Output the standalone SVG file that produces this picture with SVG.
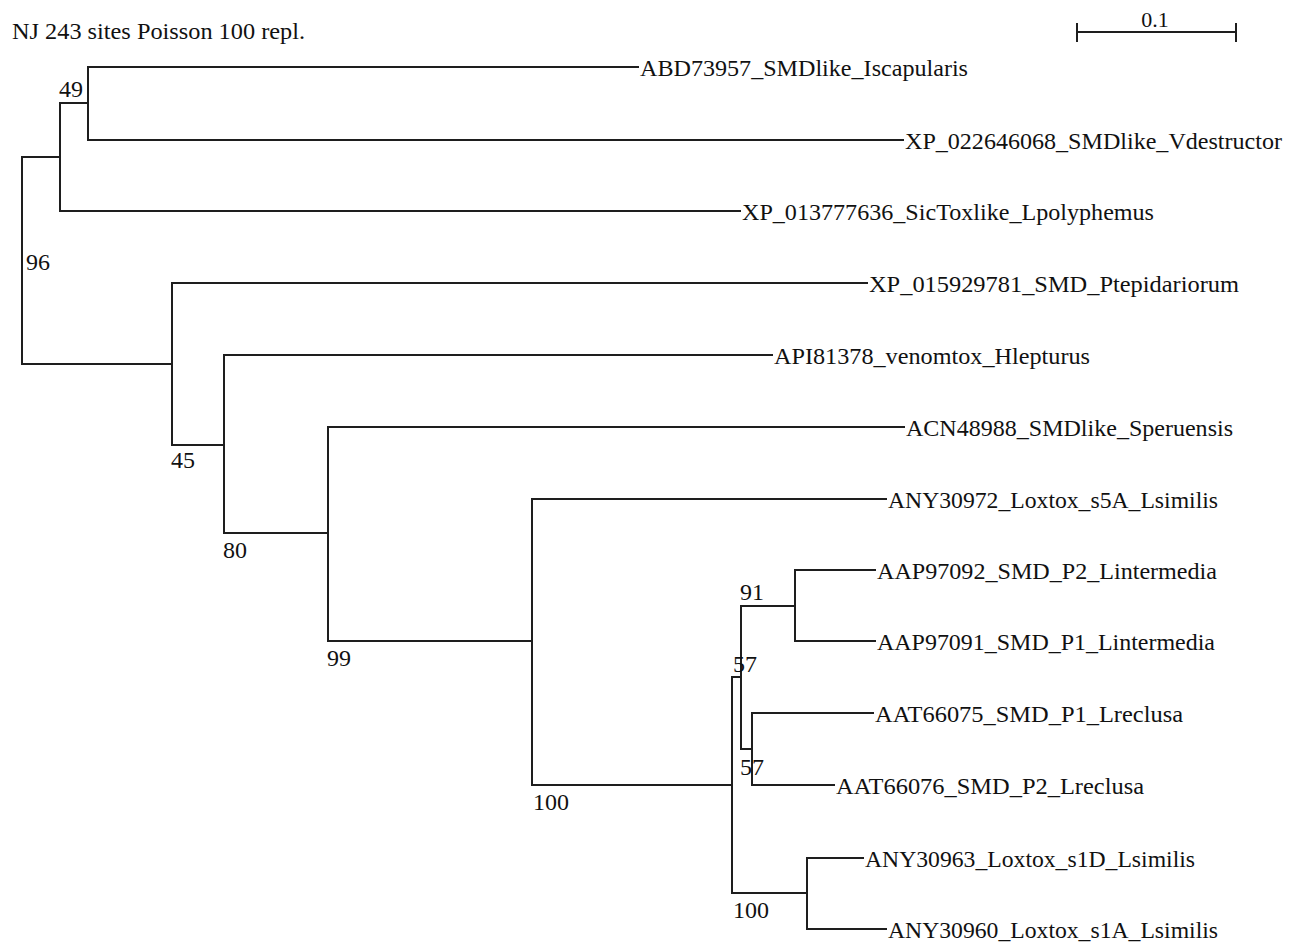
<svg xmlns="http://www.w3.org/2000/svg" width="1297" height="946" viewBox="0 0 1297 946">
<style>
.br{fill:none;stroke:#1e1e1e;stroke-width:2;stroke-linecap:square;stroke-linejoin:miter}
</style>
<rect width="1297" height="946" fill="#fff"/>
<g id="title-group" font-family="Liberation Serif" font-size="24" fill="#111">
<text id="title" x="12" y="39" textLength="293" lengthAdjust="spacingAndGlyphs">NJ 243 sites Poisson 100 repl.</text>
</g>
<g id="scalebar">
<path class="br" d="M1077 32H1236M1077 24V41M1236 24V41"/>
<text x="1155" y="27" font-family="Liberation Serif" font-size="22" fill="#111" text-anchor="middle">0.1</text>
</g>
<g id="connectors">
<path class="br" d="M22 157V364M22 157H60M22 364H172"/>
<path class="br" d="M60 103V211M60 103H88M60 211H740"/>
<path class="br" d="M88 67V140M88 67H638M88 140H903"/>
<path class="br" d="M172 283V445M172 283H867M172 445H224"/>
<path class="br" d="M224 355V533M224 355H772M224 533H328"/>
<path class="br" d="M328 427V641M328 427H904M328 641H532"/>
<path class="br" d="M532 499V785M532 499H886M532 785H732"/>
<path class="br" d="M732 677V893M732 677H741M732 893H807"/>
<path class="br" d="M741 606V749M741 606H795M741 749H752"/>
<path class="br" d="M795 570V641M795 570H875M795 641H875"/>
<path class="br" d="M752 713V785M752 713H873M752 785H834"/>
<path class="br" d="M807 858V929M807 858H863M807 929H886"/>
</g>
<g id="bootstrap" font-family="Liberation Serif" font-size="24" fill="#111">
<text x="59" y="97">49</text>
<text x="26" y="270">96</text>
<text x="171" y="468">45</text>
<text x="223" y="558">80</text>
<text x="327" y="666">99</text>
<text x="533" y="810">100</text>
<text x="740" y="600">91</text>
<text x="733" y="672">57</text>
<text x="740" y="775">57</text>
<text x="733" y="918">100</text>
</g>
<g id="leaves" font-family="Liberation Serif" font-size="24" fill="#111">
<g id="leaf-ABD73957"><text x="640" y="76" textLength="328" lengthAdjust="spacingAndGlyphs">ABD73957_SMDlike_Iscapularis</text></g>
<g id="leaf-XP_022646068"><text x="905" y="149" textLength="377" lengthAdjust="spacingAndGlyphs">XP_022646068_SMDlike_Vdestructor</text></g>
<g id="leaf-XP_013777636"><text x="742" y="220" textLength="412" lengthAdjust="spacingAndGlyphs">XP_013777636_SicToxlike_Lpolyphemus</text></g>
<g id="leaf-XP_015929781"><text x="869" y="292" textLength="370" lengthAdjust="spacingAndGlyphs">XP_015929781_SMD_Ptepidariorum</text></g>
<g id="leaf-API81378"><text x="774" y="364" textLength="316" lengthAdjust="spacingAndGlyphs">API81378_venomtox_Hlepturus</text></g>
<g id="leaf-ACN48988"><text x="906" y="436" textLength="327" lengthAdjust="spacingAndGlyphs">ACN48988_SMDlike_Speruensis</text></g>
<g id="leaf-ANY30972"><text x="888" y="508" textLength="330" lengthAdjust="spacingAndGlyphs">ANY30972_Loxtox_s5A_Lsimilis</text></g>
<g id="leaf-AAP97092"><text x="877" y="579" textLength="340" lengthAdjust="spacingAndGlyphs">AAP97092_SMD_P2_Lintermedia</text></g>
<g id="leaf-AAP97091"><text x="877" y="650" textLength="338" lengthAdjust="spacingAndGlyphs">AAP97091_SMD_P1_Lintermedia</text></g>
<g id="leaf-AAT66075"><text x="875" y="722" textLength="308" lengthAdjust="spacingAndGlyphs">AAT66075_SMD_P1_Lreclusa</text></g>
<g id="leaf-AAT66076"><text x="836" y="794" textLength="308" lengthAdjust="spacingAndGlyphs">AAT66076_SMD_P2_Lreclusa</text></g>
<g id="leaf-ANY30963"><text x="865" y="867" textLength="330" lengthAdjust="spacingAndGlyphs">ANY30963_Loxtox_s1D_Lsimilis</text></g>
<g id="leaf-ANY30960"><text x="888" y="938" textLength="330" lengthAdjust="spacingAndGlyphs">ANY30960_Loxtox_s1A_Lsimilis</text></g>
</g>
</svg>
